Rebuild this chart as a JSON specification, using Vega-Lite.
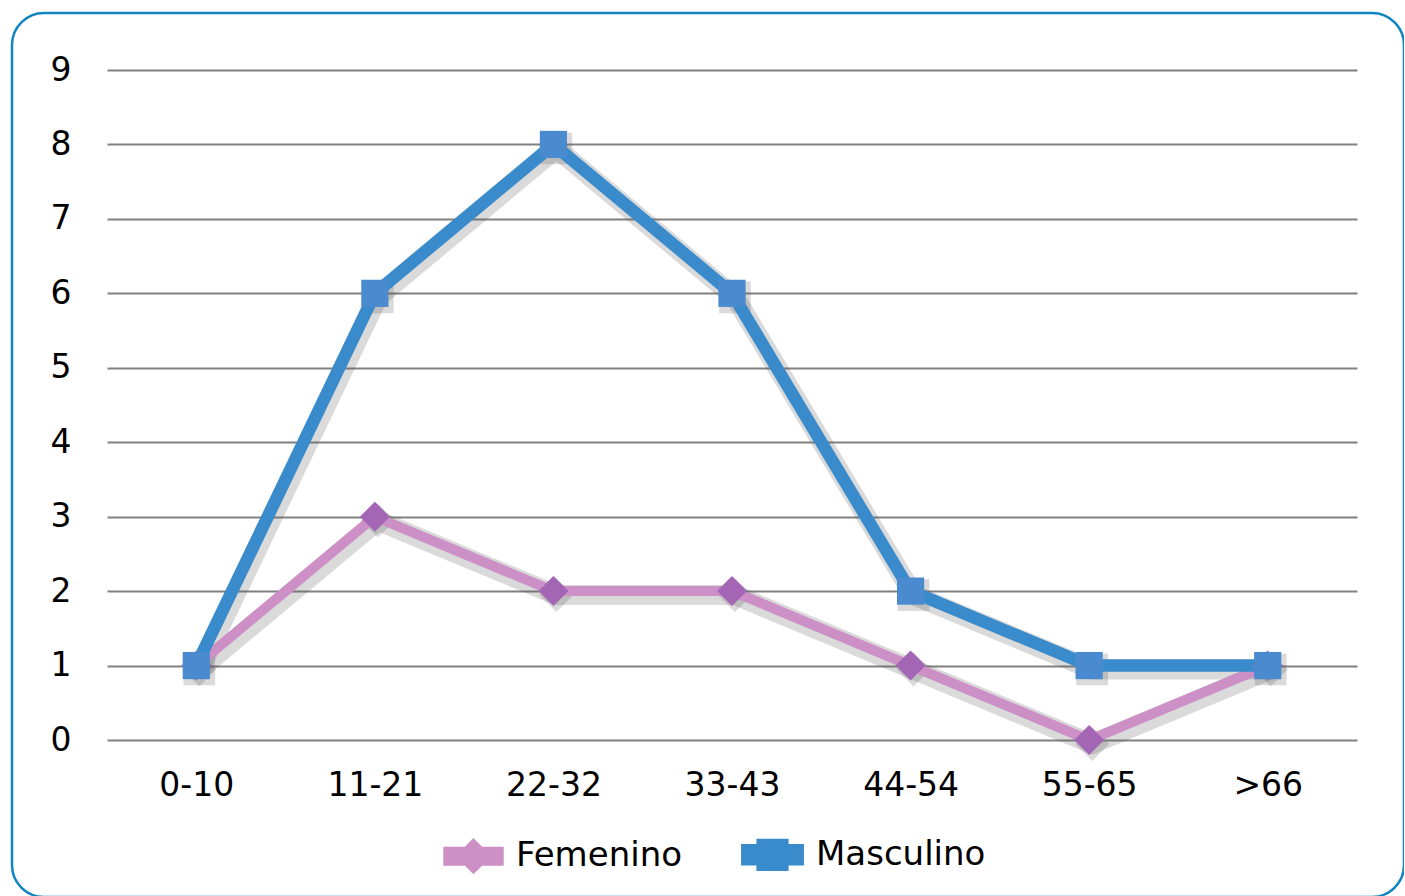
{
  "$schema": "https://vega.github.io/schema/vega-lite/v6.json",
  "autosize": "none",
  "width": 1392,
  "height": 884,
  "padding": {"left": 12, "top": 13, "right": 0, "bottom": 0},
  "background": "white",
  "config": {
    "view": {"stroke": "#1185c0", "strokeWidth": 2.5, "cornerRadius": 32, "fill": "white"},
    "font": "DejaVu Sans"
  },
  "data": {
    "values": [
      {"edad": "0-10", "serie": "Femenino", "valor": 1},
      {"edad": "11-21", "serie": "Femenino", "valor": 3},
      {"edad": "22-32", "serie": "Femenino", "valor": 2},
      {"edad": "33-43", "serie": "Femenino", "valor": 2},
      {"edad": "44-54", "serie": "Femenino", "valor": 1},
      {"edad": "55-65", "serie": "Femenino", "valor": 0},
      {"edad": ">66", "serie": "Femenino", "valor": 1},
      {"edad": "0-10", "serie": "Masculino", "valor": 1},
      {"edad": "11-21", "serie": "Masculino", "valor": 6},
      {"edad": "22-32", "serie": "Masculino", "valor": 8},
      {"edad": "33-43", "serie": "Masculino", "valor": 6},
      {"edad": "44-54", "serie": "Masculino", "valor": 2},
      {"edad": "55-65", "serie": "Masculino", "valor": 1},
      {"edad": ">66", "serie": "Masculino", "valor": 1}
    ]
  },
  "encoding": {
    "x": {
      "field": "edad",
      "type": "ordinal",
      "sort": ["0-10", "11-21", "22-32", "33-43", "44-54", "55-65", ">66"],
      "scale": {"type": "point", "padding": 0.5, "range": [95, 1345]},
      "axis": {
        "title": null,
        "orient": "bottom",
        "offset": -112,
        "domain": false,
        "ticks": false,
        "grid": false,
        "labelAngle": 0,
        "labelBaseline": "middle",
        "labelPadding": 0,
        "labelFontSize": 33,
        "labelColor": "#000000",
        "labelFont": "DejaVu Sans"
      }
    },
    "y": {
      "field": "valor",
      "type": "quantitative",
      "scale": {"domain": [0, 9], "range": [727, 57], "nice": false},
      "axis": {
        "title": null,
        "values": [0, 1, 2, 3, 4, 5, 6, 7, 8, 9],
        "offset": -63,
        "domain": false,
        "ticks": false,
        "grid": true,
        "gridColor": "#808080",
        "gridWidth": 2,
        "labelPadding": 4,
        "labelFontSize": 33,
        "labelColor": "#000000",
        "labelFont": "DejaVu Sans"
      }
    }
  },
  "layer": [
    {
      "mark": {"type": "line", "stroke": "#555555", "strokeWidth": 20, "opacity": 0.22, "xOffset": 3, "yOffset": 4, "strokeJoin": "miter"},
      "encoding": {"detail": {"field": "serie"}}
    },
    {
      "transform": [{"filter": "datum.serie === 'Femenino'"}],
      "mark": {"type": "point", "shape": "diamond", "filled": true, "fill": "#555555", "opacity": 0.22, "size": 1150, "xOffset": 3, "yOffset": 4}
    },
    {
      "transform": [{"filter": "datum.serie === 'Masculino'"}],
      "mark": {"type": "point", "shape": "square", "filled": true, "fill": "#555555", "opacity": 0.22, "size": 1000, "xOffset": 3, "yOffset": 4}
    },
    {
      "mark": {"type": "line", "strokeJoin": "miter"},
      "encoding": {
        "strokeWidth": {"field": "serie", "type": "nominal", "scale": {"domain": ["Femenino", "Masculino"], "range": [10, 12.5]}, "legend": null},
        "color": {
          "field": "serie",
          "type": "nominal",
          "scale": {"domain": ["Femenino", "Masculino"], "range": ["#cc90c6", "#3a8bcc"]},
          "legend": {
            "title": null,
            "orient": "none",
            "direction": "horizontal",
            "legendX": 431,
            "legendY": 810,
            "labelFontSize": 34,
            "labelColor": "#000000",
            "labelFont": "DejaVu Sans",
            "labelLimit": 0,
            "labelOffset": 12,
            "columnPadding": 40,
            "symbolSize": 2540,
            "symbolType": "M-1,-0.18L-0.4,-0.18L-0.4,-0.4L0.4,-0.4L0.4,-0.18L1,-0.18L1,0.18L0.4,0.18L0.4,0.4L-0.4,0.4L-0.4,0.18L-1,0.18Z",
            "symbolStrokeWidth": 0,
            "symbolOpacity": 1,
            "encode": {
              "symbols": {
                "update": {
                  "shape": {"signal": "datum.value === 'Femenino' ? 'M-1,-0.18L-0.26,-0.18L0,-0.44L0.26,-0.18L1,-0.18L1,0.18L0.26,0.18L0,0.44L-0.26,0.18L-1,0.18Z' : 'M-1,-0.18L-0.39,-0.18L-0.39,-0.39L0.39,-0.39L0.39,-0.18L1,-0.18L1,0.18L0.39,0.18L0.39,0.39L-0.39,0.39L-0.39,0.18L-1,0.18Z'"},
                  "fill": {"scale": "color", "field": "value"},
                  "stroke": {"value": "transparent"},
                  "strokeWidth": {"value": 0}
                }
              }
            }
          }
        }
      }
    },
    {
      "transform": [{"filter": "datum.serie === 'Femenino'"}],
      "mark": {"type": "point", "shape": "diamond", "filled": true, "fill": "#a466b4", "size": 900, "opacity": 1}
    },
    {
      "transform": [{"filter": "datum.serie === 'Masculino'"}],
      "mark": {"type": "point", "shape": "square", "filled": true, "fill": "#4a8bcf", "size": 740, "opacity": 1}
    }
  ]
}
